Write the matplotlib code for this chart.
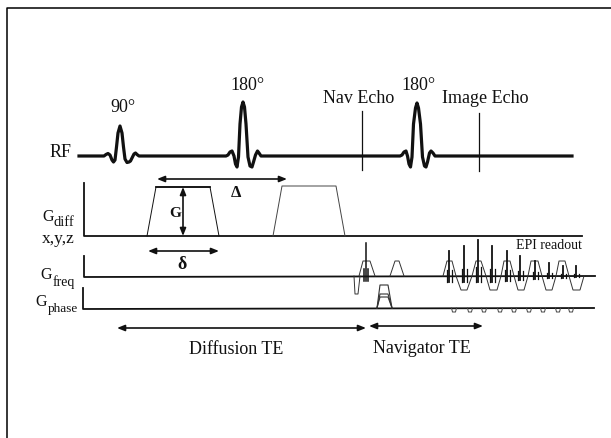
import matplotlib
matplotlib.use("Agg")
import matplotlib.pyplot as plt

plt.rcParams['font.family'] = ['Liberation Serif', 'DejaVu Serif']
INK = '#111111'

# RF line
rf_x = [79,104,106,108,110,112,113.5,115,116.5,118,120,122,123.5,125,127,129,130.5,132,134,135.5,137,139,
        226,228,230,232,234,235.5,237,238.5,240,241.5,243,244.5,246,248,250,252,253.5,255.5,257.5,259,261,
        400,402,404,406,407.5,409,410.5,412,413.5,415.5,417,418.5,420.5,422.5,424.5,426,427.5,429.5,431,433,435,572]
rf_y = [157,157,155.5,154.5,156,161,163,161,148,134,127,134,148,160,163.5,163,162,159,155,154,155.5,157,
        157,156,153,152,157,165,168,158,125,108,103,108,125,158,167,168,163,156,152,154,157,
        157,156,153,152,157,165,168,158,125,109,104,109,125,158,167,168,163,154,152,154,157,157]
nav_echo_x, nav_echo_y = [362, 362], [112, 171]
image_echo_x, image_echo_y = [479, 479], [114, 172]

# Diffusion gradients
gdiff_axis_x, gdiff_axis_y = [84, 84, 582], [184, 237, 237]
lobe1_x, lobe1_y = [147, 156, 210, 219], [237, 188, 188, 237]
lobe2_x, lobe2_y = [273, 282, 336, 345], [237, 187, 187, 237]

# Frequency gradient
gfreq_axis_x, gfreq_axis_y = [84, 84, 595], [257, 278, 277]
prewind_x, prewind_y = [354, 355, 358, 360], [277, 295, 295, 277]
nav_read_x, nav_read_y = [359, 363, 370, 375], [277, 262, 262, 277]
nav_rewind_x, nav_rewind_y = [390, 395, 399, 404], [277, 262, 262, 277]
epi_x = [443,447,452,456,461,467,472,476,481,486,490,497,501,504,510,514,518,524,528,531,538,542,546,552,556,559,565,569,573,580,584]
epi_y = [277,262,262,277,291,291,277,262,262,277,291,291,277,262,262,277,291,291,277,262,262,277,291,291,277,262,262,277,291,291,277]
nav_spike_x = [364, 366, 368]
nav_spike_top = [270, 244, 270]
nav_spike_bottom = [282, 282, 282]
echo_x = [449, 464, 478, 492, 507, 520, 535, 549, 563, 576]
echo_top = [252, 247, 241, 247, 252, 257, 262, 264, 267, 267]
echo_bottom = [283, 283, 283, 283, 282, 281, 280, 279, 279, 278]

# Phase gradient
gphase_axis_x, gphase_axis_y = [83, 83, 594], [289, 310, 309]
phase_x = [377, 380, 388, 392]
phase_tops = [286, 295, 298]
phase_base = 309
blip_x = [454, 470, 484, 500, 514, 529, 543, 558, 571]
blip_depth = 313

# Annotation arrows: x0, x1, y
big_delta = (157, 287, 180)
small_delta = (148, 219, 252)
diffusion_te = (117, 366, 329)
navigator_te = (369, 483, 327)
g_arrow = (183, 188, 237)

fig = plt.figure(figsize=(6.11, 4.39), dpi=100, facecolor='white')
ax = fig.add_axes([0, 0, 1, 1])
ax.set_xlim(0, 611)
ax.set_ylim(439, 0)
ax.axis('off')

def line(x, y, lw=1.0, color=INK, **kw):
    ax.plot(x, y, color=color, lw=lw, solid_joinstyle='round', **kw)

# Frame: only top and left edges are visible
line([6.5, 6.5, 611], [439, 9, 9], lw=1.1, color='black')

line(rf_x, rf_y, lw=2.3)
line(nav_echo_x, nav_echo_y, lw=0.9)
line(image_echo_x, image_echo_y, lw=0.9)

line(gdiff_axis_x, gdiff_axis_y, lw=1.3)
line(lobe1_x, lobe1_y, lw=0.7)
line(lobe1_x[1:3], lobe1_y[1:3], lw=1.3)
line(lobe2_x, lobe2_y, lw=0.7, color='#444444')

line(gfreq_axis_x, gfreq_axis_y, lw=1.3)
for xs, ys in [(prewind_x, prewind_y), (nav_read_x, nav_read_y), (nav_rewind_x, nav_rewind_y), (epi_x, epi_y)]:
    line(xs, ys, lw=0.7, color='#333333')
for x, t, b in zip(nav_spike_x, nav_spike_top, nav_spike_bottom):
    line([x, x], [t, b], lw=1.1)
for x, t, b in zip(echo_x, echo_top, echo_bottom):
    line([x, x], [t, b], lw=1.3)
    line([x - 2.5, x - 2.5], [277 - (277 - t) * 0.25, b], lw=0.9)
    line([x + 2.5, x + 2.5], [277 - (277 - t) * 0.25, b], lw=0.9)

line(gphase_axis_x, gphase_axis_y, lw=1.3)
for top in phase_tops:
    line(phase_x, [phase_base, top, top, phase_base], lw=0.8, color='#333333')
for x in blip_x:
    line([x - 2.5, x - 1.5, x + 1.5, x + 2.5], [phase_base, blip_depth, blip_depth, phase_base], lw=0.7, color='#444444')

ARROW = dict(arrowstyle='<|-|>,head_length=0.45,head_width=0.18', color=INK, lw=1.2, shrinkA=0, shrinkB=0)

def harrow(x0, x1, y):
    ax.annotate('', xy=(x0, y), xytext=(x1, y), arrowprops=ARROW)

for a in (big_delta, small_delta, diffusion_te, navigator_te):
    harrow(*a)
ax.annotate('', xy=(g_arrow[0], g_arrow[1]), xytext=(g_arrow[0], g_arrow[2]), arrowprops=ARROW)

def label(x, y, s, size=13, ha='center', **kw):
    ax.text(x, y, s, fontsize=size, ha=ha, va='center', color=INK, **kw)

label(123, 108, '90°')
label(247, 86, '180°')
label(418, 85, '180°')
label(358.5, 99, 'Nav Echo')
label(485.5, 99, 'Image Echo')
label(61, 153, 'RF')
label(236, 350, 'Diffusion TE')
label(422, 349, 'Navigator TE')
label(549, 246, 'EPI readout', size=10)
label(236, 193, 'Δ', size=12, fontweight='bold')
label(175, 214, 'G', size=11, fontweight='bold')
label(182, 265, 'δ', size=13, fontweight='bold')

label(42, 217, 'G', ha='left', size=11.5)
label(54, 223, 'diff', ha='left', size=10.5)
label(42, 239, 'x,y,z', ha='left', size=12.5)
label(40, 275, 'G', ha='left', size=11.5)
label(53, 282, 'freq', ha='left', size=10)
label(35, 302, 'G', ha='left', size=11.5)
label(48, 309, 'phase', ha='left', size=9.5)

fig.savefig('out.png', dpi=100, facecolor='white')
